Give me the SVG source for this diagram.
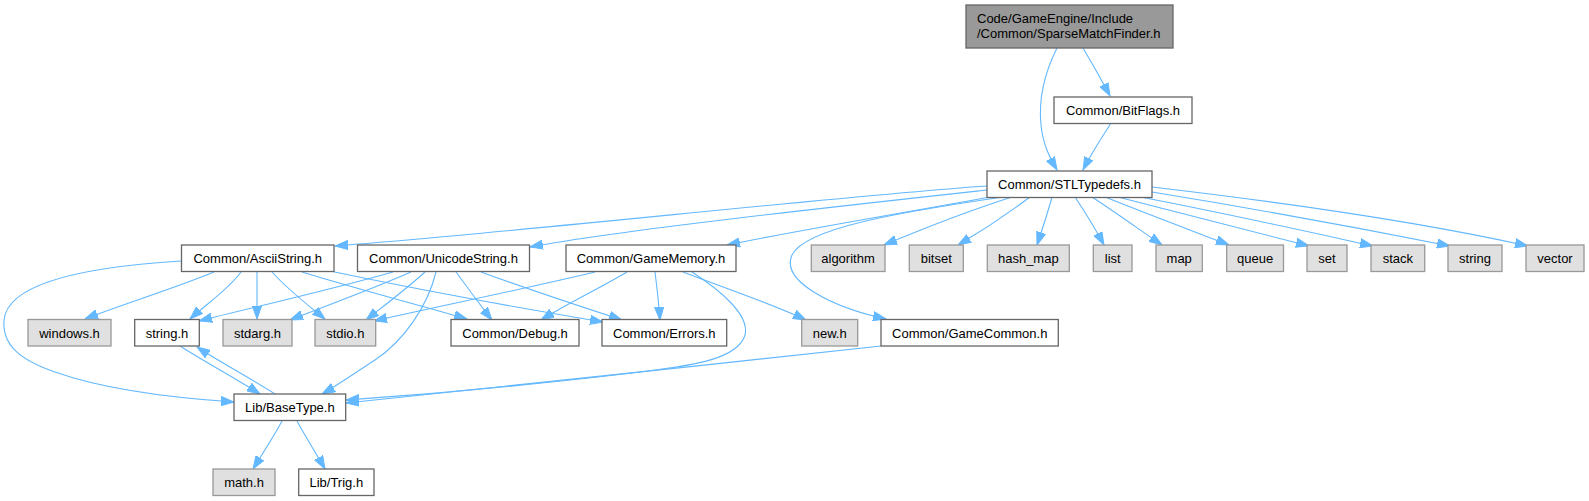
<svg xmlns="http://www.w3.org/2000/svg" width="1589" height="501" viewBox="0 0 1589 501">
<style>
text{font-family:"Liberation Sans",Arial,Helvetica,sans-serif;font-size:13px;fill:#000}
.c{text-anchor:middle}
.w{fill:#ffffff;stroke:#666666;stroke-width:1.3}
.g{fill:#e0e0e0;stroke:#999999;stroke-width:1.3}
.r{fill:#999999;stroke:#666666;stroke-width:1.3}
#edges path{fill:none;stroke:#63b8ff;stroke-width:1.1;marker-end:url(#a)}
</style>
<defs>
<marker id="a" viewBox="0 0 14 10" markerWidth="14" markerHeight="10" refX="13" refY="5" orient="auto" markerUnits="userSpaceOnUse">
<path d="M0,0.4 L13,5 L0,9.6 z" fill="#63b8ff" stroke="#63b8ff" stroke-width="1"/>
</marker>
</defs>
<rect width="1589" height="501" fill="#ffffff"/>
<g id="edges">
<path d="M1083,48 C1092,63 1101,79 1110,96"/>
<path d="M1057,48 C1046,70 1038,95 1041,125 C1043,145 1050,158 1057,170"/>
<path d="M1111,123 C1103,136 1092,152 1083,170"/>
<path d="M987,186 C850,195 520,232 335,246"/>
<path d="M987,190 C850,205 620,230 530,247"/>
<path d="M990,197 C920,210 800,230 727,245"/>
<path d="M1003,197 C900,212 805,228 792,255 C780,282 835,308 886,319"/>
<path d="M1012,197 C965,212 915,232 884,245"/>
<path d="M1030,197 C1010,212 980,232 958,245"/>
<path d="M1052,197 C1048,212 1042,230 1037,245"/>
<path d="M1075,197 C1085,212 1096,230 1104,245"/>
<path d="M1092,197 C1115,212 1140,230 1162,245"/>
<path d="M1105,197 C1145,213 1190,230 1229,245"/>
<path d="M1118,197 C1180,213 1250,231 1309,246"/>
<path d="M1135,196 C1220,212 1300,230 1373,246"/>
<path d="M1152,192 C1250,208 1360,228 1450,246"/>
<path d="M1152,187 C1280,202 1420,222 1528,246"/>
<path d="M214,272 C170,290 120,305 85,319"/>
<path d="M241,272 C228,290 205,305 190,319"/>
<path d="M257,272 L257,319"/>
<path d="M272,272 C288,290 308,305 325,319"/>
<path d="M302,272 C360,290 420,305 467,319"/>
<path d="M330,271 C420,290 520,308 603,322"/>
<path d="M181,261 C100,266 8,280 4,320 C2,345 20,360 55,372 C100,388 160,397 234,402"/>
<path d="M393,272 C330,290 250,308 199,321"/>
<path d="M411,272 C370,290 320,308 290,320"/>
<path d="M425,272 C405,290 385,305 366,320"/>
<path d="M456,272 C468,288 480,305 492,320"/>
<path d="M481,272 C530,290 585,308 622,320"/>
<path d="M436,272 C428,305 405,340 375,360 C355,373 338,385 322,394"/>
<path d="M595,272 C520,290 430,308 374,321"/>
<path d="M627,272 C600,288 565,305 541,320"/>
<path d="M655,272 C657,288 659,305 660,320"/>
<path d="M683,272 C730,290 775,305 806,320"/>
<path d="M692,272 C720,290 750,315 745,335 C740,352 715,362 669,368 C600,378 450,393 346,400"/>
<path d="M881,346 C700,366 450,392 346,403"/>
<path d="M180,346 C205,362 235,378 260,394"/>
<path d="M275,394 C250,378 220,362 197,347"/>
<path d="M282,421 C274,436 263,453 253,469"/>
<path d="M297,421 C305,436 316,453 325,469"/>
</g>
<g id="n_top"><rect class="r" x="966" y="5" width="207" height="43"/><text x="977" y="23">Code/GameEngine/Include</text><text x="977" y="38">/Common/SparseMatchFinder.h</text></g>
<g id="n_bitflags"><rect class="w" x="1054" y="97" width="138" height="26.5"/><text class="c" x="1123" y="115">Common/BitFlags.h</text></g>
<g id="n_stl"><rect class="w" x="987" y="171" width="165" height="26.5"/><text class="c" x="1069.5" y="189">Common/STLTypedefs.h</text></g>
<g id="n_ascii"><rect class="w" x="181.5" y="245" width="152.5" height="26.5"/><text class="c" x="257.75" y="263">Common/AsciiString.h</text></g>
<g id="n_unicode"><rect class="w" x="357.5" y="245" width="172" height="26.5"/><text class="c" x="443.5" y="263">Common/UnicodeString.h</text></g>
<g id="n_gamememory"><rect class="w" x="566" y="245" width="170" height="26.5"/><text class="c" x="651" y="263">Common/GameMemory.h</text></g>
<g id="n_algorithm"><rect class="g" x="811.3" y="245" width="73.7" height="26.5"/><text class="c" x="848" y="263">algorithm</text></g>
<g id="n_bitset"><rect class="g" x="909.3" y="245" width="54" height="26.5"/><text class="c" x="936.3" y="263">bitset</text></g>
<g id="n_hashmap"><rect class="g" x="987.3" y="245" width="82" height="26.5"/><text class="c" x="1028.3" y="263">hash_map</text></g>
<g id="n_list"><rect class="g" x="1093.3" y="245" width="38.7" height="26.5"/><text class="c" x="1112.7" y="263">list</text></g>
<g id="n_map"><rect class="g" x="1156" y="245" width="46.3" height="26.5"/><text class="c" x="1179.2" y="263">map</text></g>
<g id="n_queue"><rect class="g" x="1226.7" y="245" width="56.8" height="26.5"/><text class="c" x="1255.1" y="263">queue</text></g>
<g id="n_set"><rect class="g" x="1307" y="245" width="40" height="26.5"/><text class="c" x="1327" y="263">set</text></g>
<g id="n_stack"><rect class="g" x="1371" y="245" width="53.7" height="26.5"/><text class="c" x="1397.8" y="263">stack</text></g>
<g id="n_string"><rect class="g" x="1448" y="245" width="54" height="26.5"/><text class="c" x="1475" y="263">string</text></g>
<g id="n_vector"><rect class="g" x="1526" y="245" width="58" height="26.5"/><text class="c" x="1555" y="263">vector</text></g>
<g id="n_windows"><rect class="g" x="28" y="319.5" width="83" height="26.5"/><text class="c" x="69.5" y="337.5">windows.h</text></g>
<g id="n_stringh"><rect class="w" x="134.7" y="319.5" width="64.6" height="26.5"/><text class="c" x="167" y="337.5">string.h</text></g>
<g id="n_stdarg"><rect class="g" x="223" y="319.5" width="69" height="26.5"/><text class="c" x="257.5" y="337.5">stdarg.h</text></g>
<g id="n_stdio"><rect class="g" x="315" y="319.5" width="60.7" height="26.5"/><text class="c" x="345.3" y="337.5">stdio.h</text></g>
<g id="n_debug"><rect class="w" x="451" y="319.5" width="128" height="26.5"/><text class="c" x="515" y="337.5">Common/Debug.h</text></g>
<g id="n_errors"><rect class="w" x="602" y="319.5" width="124.7" height="26.5"/><text class="c" x="664.3" y="337.5">Common/Errors.h</text></g>
<g id="n_new"><rect class="g" x="801.7" y="319.5" width="56" height="26.5"/><text class="c" x="829.7" y="337.5">new.h</text></g>
<g id="n_gamecommon"><rect class="w" x="881" y="319.5" width="177.3" height="26.5"/><text class="c" x="969.7" y="337.5">Common/GameCommon.h</text></g>
<g id="n_basetype"><rect class="w" x="234" y="394" width="111.7" height="26.5"/><text class="c" x="289.9" y="412">Lib/BaseType.h</text></g>
<g id="n_math"><rect class="g" x="213" y="469" width="62" height="26.5"/><text class="c" x="244" y="487">math.h</text></g>
<g id="n_trig"><rect class="w" x="298.7" y="469" width="75.3" height="26.5"/><text class="c" x="336.3" y="487">Lib/Trig.h</text></g>
</svg>
